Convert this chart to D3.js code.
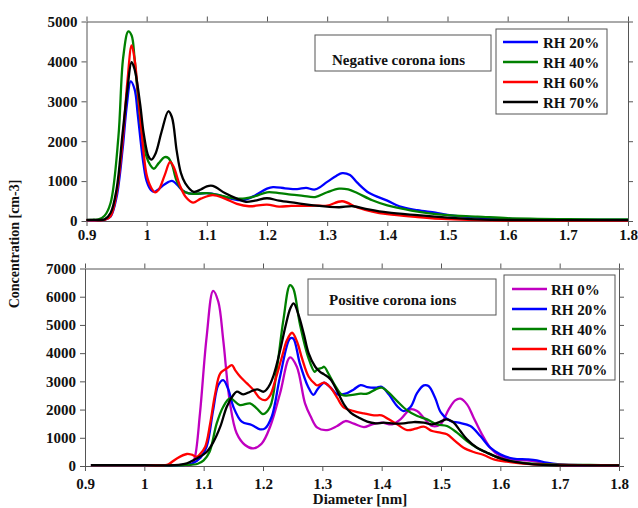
<!DOCTYPE html>
<html>
<head>
<meta charset="utf-8">
<script src="https://cdn.jsdelivr.net/npm/d3@7"></script>
<style>
  html, body { margin: 0; padding: 0; background: #fff; }
  svg { display: block; }
  text { font-family: "Liberation Serif", "Times New Roman", serif; font-weight: bold; fill: #111; }
</style>
</head>
<body>
<svg id="chart" width="638" height="508"></svg>
<script>
// ---- Tick labels ----
const xTicks = [0.9, 1.0, 1.1, 1.2, 1.3, 1.4, 1.5, 1.6, 1.7, 1.8];
const xTickLabels = ["0.9", "1", "1.1", "1.2", "1.3", "1.4", "1.5", "1.6", "1.7", "1.8"];
const yTicksNeg = [0, 1000, 2000, 3000, 4000, 5000];
const yTicksPos = [0, 1000, 2000, 3000, 4000, 5000, 6000, 7000];

// ---- Negative corona ions: [diameter nm, concentration cm-3] ----
const negRH20 = [[0.90,20],[0.92,20],[0.93,30],[0.94,110],[0.95,600],[0.96,1800],[0.967,2900],[0.9735,3500],[0.98,3300],[0.985,2700],[0.99,2000],[0.995,1400],[1.0,1000],[1.007,780],[1.013,730],[1.02,800],[1.03,920],[1.042,1005],[1.05,920],[1.06,760],[1.07,690],[1.085,680],[1.10,700],[1.12,650],[1.14,560],[1.16,520],[1.18,640],[1.20,810],[1.21,850],[1.23,820],[1.25,800],[1.265,830],[1.28,790],[1.30,980],[1.315,1130],[1.325,1200],[1.338,1150],[1.35,960],[1.37,700],[1.40,510],[1.42,370],[1.45,270],[1.48,210],[1.50,155],[1.55,85],[1.60,50],[1.70,30],[1.80,25]];
const negRH40 = [[0.90,20],[0.91,30],[0.92,40],[0.93,130],[0.94,450],[0.953,2100],[0.961,4100],[0.9695,4750],[0.975,4650],[0.98,4050],[0.985,3200],[0.992,2200],[1.0,1600],[1.006,1400],[1.012,1310],[1.02,1450],[1.03,1600],[1.036,1580],[1.042,1420],[1.05,1000],[1.06,760],[1.07,690],[1.08,680],[1.10,700],[1.12,650],[1.14,580],[1.16,560],[1.18,620],[1.20,720],[1.22,700],[1.24,660],[1.26,630],[1.28,600],[1.30,720],[1.32,810],[1.335,790],[1.35,700],[1.375,520],[1.40,390],[1.42,320],[1.44,260],[1.47,190],[1.50,145],[1.55,110],[1.60,70],[1.65,55],[1.70,45],[1.75,40],[1.80,40]];
const negRH60 = [[0.90,20],[0.92,15],[0.93,25],[0.94,120],[0.95,700],[0.96,2000],[0.968,3500],[0.975,4400],[0.98,4050],[0.985,3300],[0.99,2500],[0.995,1700],[1.0,1150],[1.007,850],[1.014,720],[1.02,780],[1.03,1150],[1.039,1480],[1.045,1350],[1.055,900],[1.065,600],[1.077,460],[1.09,560],[1.11,650],[1.13,560],[1.15,430],[1.17,370],[1.20,410],[1.22,360],[1.24,380],[1.26,380],[1.28,385],[1.30,385],[1.325,495],[1.35,340],[1.375,235],[1.40,170],[1.45,100],[1.50,45],[1.55,20],[1.60,12],[1.70,10],[1.80,10]];
const negRH70 = [[0.90,30],[0.91,30],[0.92,25],[0.93,40],[0.94,200],[0.95,800],[0.96,2200],[0.968,3300],[0.975,3980],[0.98,3800],[0.989,2950],[0.995,2200],[1.003,1620],[1.008,1540],[1.015,1700],[1.025,2250],[1.036,2750],[1.042,2600],[1.05,1750],[1.057,1200],[1.064,950],[1.078,730],[1.09,790],[1.10,870],[1.11,880],[1.13,700],[1.15,560],[1.165,480],[1.18,510],[1.20,570],[1.22,510],[1.25,450],[1.277,390],[1.30,360],[1.32,345],[1.343,370],[1.366,300],[1.40,215],[1.45,145],[1.50,85],[1.55,43],[1.60,25],[1.70,20],[1.80,20]];

// ---- Positive corona ions: [diameter nm, concentration cm-3] ----
const posRH0 = [[0.91,30],[1.00,30],[1.06,30],[1.08,60],[1.0854,330],[1.0938,1870],[1.105,4580],[1.116,6210],[1.1247,5820],[1.133,4460],[1.1444,2220],[1.1556,1160],[1.1697,745],[1.1837,626],[1.198,800],[1.212,1390],[1.2287,2570],[1.2455,3850],[1.257,3520],[1.2708,2220],[1.28,1770],[1.2916,1358],[1.308,1275],[1.325,1417],[1.339,1594],[1.353,1500],[1.37,1381],[1.384,1476],[1.40,1535],[1.4177,1476],[1.4317,1653],[1.4485,2007],[1.4597,1948],[1.471,1712],[1.485,1417],[1.499,1476],[1.513,2007],[1.524,2326],[1.5326,2385],[1.5438,2184],[1.555,1712],[1.569,1122],[1.583,649],[1.60,354],[1.622,236],[1.645,200],[1.661,153],[1.678,83],[1.70,35],[1.75,25],[1.80,20]];
const posRH20 = [[0.91,30],[1.00,30],[1.06,30],[1.08,80],[1.095,300],[1.105,685],[1.116,1983],[1.1247,2870],[1.133,3045],[1.142,2690],[1.15,2100],[1.1642,1570],[1.181,1452],[1.195,1300],[1.2035,1335],[1.2147,1746],[1.2287,3162],[1.2455,4520],[1.251,4520],[1.262,3640],[1.276,2810],[1.285,2520],[1.2916,2715],[1.303,2950],[1.314,2774],[1.325,2538],[1.339,2562],[1.353,2715],[1.3645,2869],[1.3757,2798],[1.39,2774],[1.40,2810],[1.412,2538],[1.426,2125],[1.437,1948],[1.4485,2090],[1.46,2597],[1.471,2857],[1.479,2833],[1.49,2420],[1.50,1889],[1.5158,1594],[1.53,1535],[1.5494,1417],[1.5663,1063],[1.583,650],[1.60,413],[1.622,260],[1.645,236],[1.6615,200],[1.678,118],[1.70,59],[1.75,30],[1.80,25]];
const posRH40 = [[0.91,30],[1.00,30],[1.07,30],[1.09,80],[1.10,200],[1.11,507],[1.122,1510],[1.133,2100],[1.1444,2397],[1.161,2160],[1.1782,2220],[1.1893,2043],[1.20,1841],[1.212,2100],[1.2231,3400],[1.2343,5170],[1.2455,6410],[1.251,6290],[1.262,5050],[1.276,3870],[1.287,3340],[1.2916,3424],[1.30,3483],[1.303,3518],[1.311,3247],[1.322,2833],[1.3336,2515],[1.3476,2515],[1.3645,2562],[1.3757,2562],[1.39,2715],[1.40,2774],[1.412,2597],[1.426,2302],[1.443,1972],[1.46,1771],[1.4766,1653],[1.4934,1476],[1.51,1417],[1.527,1181],[1.5438,885],[1.5606,649],[1.5775,472],[1.60,272],[1.622,153],[1.656,83],[1.70,47],[1.75,35],[1.80,30]];
const posRH60 = [[0.91,30],[1.00,30],[1.035,30],[1.0407,60],[1.0548,270],[1.0717,425],[1.08,400],[1.0885,330],[1.094,425],[1.1026,685],[1.111,1511],[1.1195,2574],[1.128,3282],[1.139,3460],[1.1476,3577],[1.153,3400],[1.1617,3164],[1.173,2928],[1.184,2692],[1.195,2397],[1.204,2338],[1.2123,2515],[1.2208,3046],[1.232,3872],[1.2405,4463],[1.249,4722],[1.2574,4404],[1.2658,3813],[1.277,3164],[1.288,2900],[1.2916,2857],[1.303,2951],[1.314,2774],[1.325,2420],[1.3364,2066],[1.353,1948],[1.37,1865],[1.387,1794],[1.40,1794],[1.412,1653],[1.426,1476],[1.443,1275],[1.457,1322],[1.471,1393],[1.485,1240],[1.499,1181],[1.51,1122],[1.524,885],[1.538,649],[1.555,496],[1.572,390],[1.589,236],[1.611,153],[1.6335,94],[1.656,59],[1.70,35],[1.75,28],[1.80,25]];
const posRH70 = [[0.91,30],[1.00,30],[1.05,30],[1.0717,94],[1.0885,270],[1.1054,507],[1.1167,862],[1.128,1393],[1.139,2100],[1.15,2515],[1.156,2633],[1.167,2538],[1.1786,2633],[1.19,2715],[1.201,2633],[1.2095,2810],[1.218,3223],[1.229,4109],[1.2377,4935],[1.246,5584],[1.2517,5761],[1.26,5348],[1.2686,4699],[1.277,3990],[1.288,3518],[1.2967,3330],[1.303,3247],[1.314,3070],[1.325,2656],[1.3364,2184],[1.3476,1889],[1.3617,1712],[1.3757,1570],[1.39,1511],[1.4037,1535],[1.4205,1500],[1.4373,1511],[1.454,1558],[1.471,1535],[1.485,1476],[1.499,1570],[1.51,1653],[1.5214,1535],[1.5326,1240],[1.5438,945],[1.5606,649],[1.5775,472],[1.60,272],[1.622,153],[1.656,59],[1.70,24],[1.75,20],[1.80,20]];

const seriesNames = ["RH 0%", "RH 20%", "RH 40%", "RH 60%", "RH 70%"];
const seriesColors = ["#c000c0", "#0000ff", "#008000", "#ff0000", "#000000"];

const svg = d3.select("#chart");
const axisColor = "#555";
const serif = "Liberation Serif, Times New Roman, serif";

function drawPanel(cfg) {
  const x = d3.scaleLinear().domain([0.9, 1.8]).range([cfg.left, cfg.right]);
  const y = d3.scaleLinear().domain([0, cfg.yMax]).range([cfg.bottom, cfg.top]);
  const g = svg.append("g");

  // frame axes: left/bottom labelled, top/right ticks only
  const fmtX = (d) => xTickLabels[xTicks.indexOf(d)];
  const axB = g.append("g").attr("transform", `translate(0,${cfg.bottom})`)
    .call(d3.axisBottom(x).tickValues(xTicks).tickFormat(fmtX).tickSize(5).tickPadding(cfg.xPad).tickSizeOuter(0));
  const axT = g.append("g").attr("transform", `translate(0,${cfg.top})`)
    .call(d3.axisTop(x).tickValues(xTicks).tickFormat("").tickSize(5).tickSizeOuter(0));
  const axL = g.append("g").attr("transform", `translate(${cfg.left},0)`)
    .call(d3.axisLeft(y).tickValues(cfg.yTicks).tickFormat(d3.format("d")).tickSize(5).tickPadding(4).tickSizeOuter(0));
  const axR = g.append("g").attr("transform", `translate(${cfg.right},0)`)
    .call(d3.axisRight(y).tickValues(cfg.yTicks).tickFormat("").tickSize(5).tickSizeOuter(0));
  [axB, axT, axL, axR].forEach(a => {
    a.attr("font-family", serif);
    a.select(".domain").attr("stroke", axisColor).attr("stroke-width", 1);
    a.selectAll(".tick line").attr("stroke", axisColor);
    a.selectAll(".tick text").attr("font-family", serif).attr("font-weight", "bold")
      .attr("font-size", 15).attr("fill", "#111");
  });

  const line = d3.line().x(d => x(d[0])).y(d => y(d[1])).curve(d3.curveCatmullRom.alpha(0.5));
  cfg.series.forEach(s => {
    g.append("path").datum(s.data).attr("fill", "none").attr("stroke", s.color)
      .attr("stroke-width", 2.3).attr("stroke-linejoin", "round").attr("d", line);
  });

  // caption box
  const c = cfg.caption;
  g.append("rect").attr("x", c.x).attr("y", c.y).attr("width", c.w).attr("height", c.h)
    .attr("fill", "#fff").attr("stroke", axisColor).attr("stroke-width", 1);
  g.append("text").attr("x", c.tx).attr("y", c.ty).attr("font-size", 15).text(c.text);

  // legend
  const L = cfg.legend;
  g.append("rect").attr("x", L.x).attr("y", L.y).attr("width", L.w).attr("height", L.h)
    .attr("fill", "#fff").attr("stroke", axisColor).attr("stroke-width", 1);
  cfg.series.forEach((s, i) => {
    const cy = L.y0 + i * 20;
    g.append("line").attr("x1", L.lx1).attr("x2", L.lx2).attr("y1", cy).attr("y2", cy)
      .attr("stroke", s.color).attr("stroke-width", 2.5);
    g.append("text").attr("x", L.tx).attr("y", cy + 5.5).attr("font-size", 15).text(s.name);
  });
}

drawPanel({
  left: 86.5, right: 628, top: 21.5, bottom: 221, yMax: 5000, yTicks: yTicksNeg, xPad: 3,
  series: [
    { name: seriesNames[1], color: seriesColors[1], data: negRH20 },
    { name: seriesNames[2], color: seriesColors[2], data: negRH40 },
    { name: seriesNames[3], color: seriesColors[3], data: negRH60 },
    { name: seriesNames[4], color: seriesColors[4], data: negRH70 }
  ],
  caption: { x: 315, y: 35, w: 176, h: 36, tx: 332, ty: 65, text: "Negative corona ions" },
  legend: { x: 496, y: 29, w: 111, h: 85, y0: 42, lx1: 503, lx2: 538, tx: 543 }
});

drawPanel({
  left: 85, right: 619, top: 268.5, bottom: 466, yMax: 7000, yTicks: yTicksPos, xPad: 7,
  series: [
    { name: seriesNames[0], color: seriesColors[0], data: posRH0 },
    { name: seriesNames[1], color: seriesColors[1], data: posRH20 },
    { name: seriesNames[2], color: seriesColors[2], data: posRH40 },
    { name: seriesNames[3], color: seriesColors[3], data: posRH60 },
    { name: seriesNames[4], color: seriesColors[4], data: posRH70 }
  ],
  caption: { x: 308, y: 279, w: 188, h: 36, tx: 329, ty: 305, text: "Positive corona ions" },
  legend: { x: 504, y: 275, w: 111, h: 105, y0: 289, lx1: 512, lx2: 547, tx: 551 }
});

// axis titles
svg.append("text").attr("transform", "translate(19,244) rotate(-90)").attr("text-anchor", "middle")
  .attr("font-size", 14).text("Concentration [cm-3]");
svg.append("text").attr("x", 360).attr("y", 504).attr("text-anchor", "middle")
  .attr("font-size", 15).text("Diameter [nm]");
</script>
</body>
</html>
